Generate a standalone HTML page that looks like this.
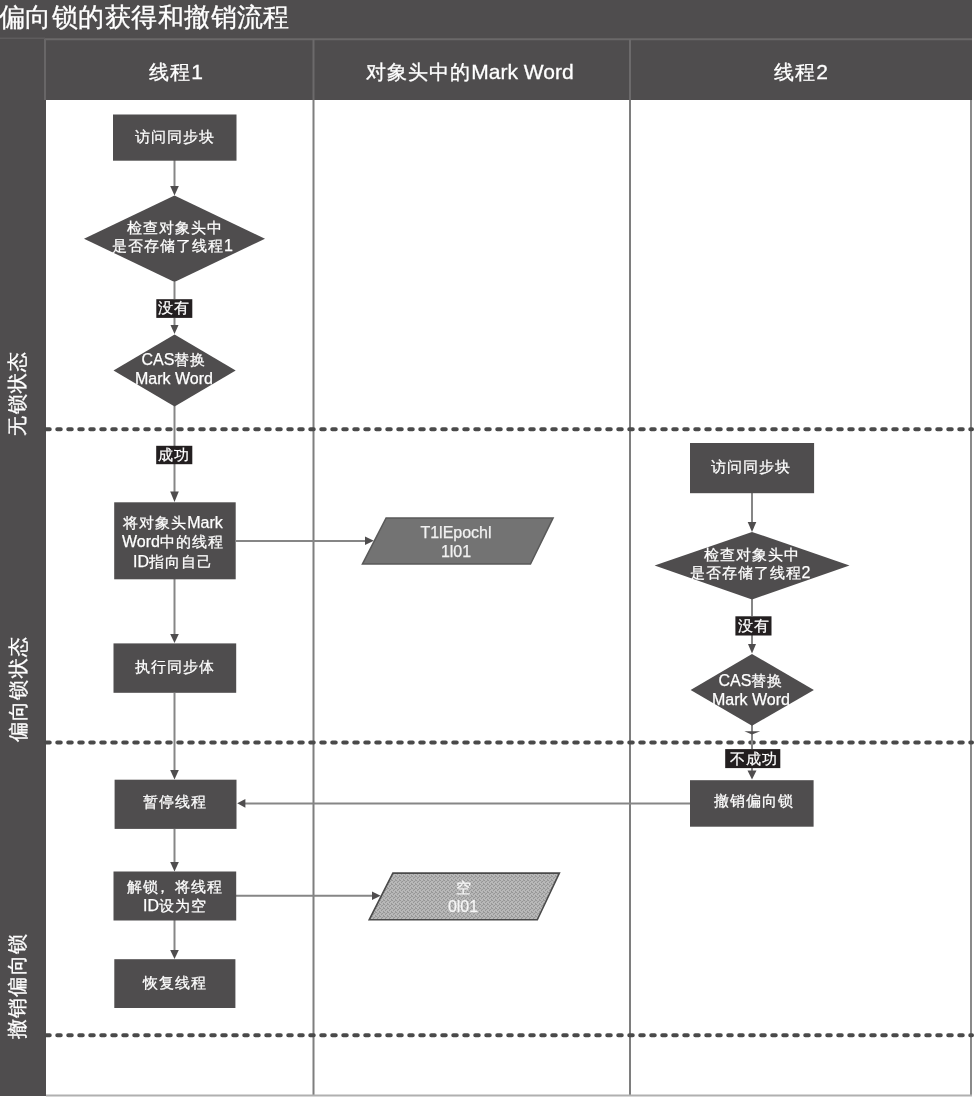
<!DOCTYPE html>
<html><head><meta charset="utf-8">
<style>
html,body{margin:0;padding:0;background:#fff;}
body{width:975px;height:1103px;position:relative;overflow:hidden;font-family:"Liberation Sans",sans-serif;}
svg{position:absolute;left:0;top:0;}
.t,.h,.v,.title{position:absolute;color:#fff;will-change:transform;white-space:nowrap;}
.t{-webkit-text-stroke:0.25px #fff;text-align:center;font-size:16px;line-height:19.3px;}
.t .c{font-size:15px;letter-spacing:1px;}
.h{-webkit-text-stroke:0.3px #fff;text-align:center;font-size:21px;line-height:24px;}
.h .ch{font-size:20px;letter-spacing:1px;}
.v{-webkit-text-stroke:0.3px #fff;font-size:20px;line-height:24px;letter-spacing:1.4px;transform:rotate(-90deg);text-align:center;}
.title{left:-1px;top:0;font-size:26.3px;line-height:34px;letter-spacing:0.45px;-webkit-text-stroke:0.3px #fff;}
</style></head><body>
<svg width="975" height="1103" viewBox="0 0 975 1103">
  <!-- frame -->
  <rect x="0" y="0" width="972" height="1096" fill="#4f4d4e"/>
  <rect x="46" y="100" width="925" height="995.5" fill="#fff"/>
  <!-- header lines -->
  <line x1="0" y1="38.3" x2="45" y2="38.3" stroke="#5e5c5d" stroke-width="1.6"/>
  <line x1="45" y1="39.2" x2="972" y2="39.2" stroke="#6a6869" stroke-width="2"/>
  <line x1="45" y1="39" x2="45" y2="100" stroke="#686667" stroke-width="2"/>
  <!-- column dividers -->
  <line x1="313.5" y1="39" x2="313.5" y2="100" stroke="#6c6a6b" stroke-width="2"/>
  <line x1="630" y1="39" x2="630" y2="100" stroke="#6c6a6b" stroke-width="2"/>
  <line x1="313.5" y1="100" x2="313.5" y2="1095" stroke="#7e7e7e" stroke-width="2"/>
  <line x1="630" y1="100" x2="630" y2="1095" stroke="#7e7e7e" stroke-width="2"/>
  <line x1="971" y1="100" x2="971" y2="1096" stroke="#8a8a8a" stroke-width="2"/>
  <line x1="46" y1="1095.5" x2="972" y2="1095.5" stroke="#b0b0b0" stroke-width="2"/>
  <!-- dashed separators -->
  <g stroke="#4a4a4a" stroke-width="4" stroke-linecap="round" stroke-dasharray="3.5 7.5" fill="none">
    <line x1="46.25" y1="429.3" x2="972" y2="429.3"/>
    <line x1="46.25" y1="742.5" x2="972" y2="742.5"/>
    <line x1="46.25" y1="1035.2" x2="972" y2="1035.2"/>
  </g>
  <!-- connector lines -->
  <g stroke="#868686" stroke-width="2" fill="none">
    <line x1="174.5" y1="160" x2="174.5" y2="190"/>
    <line x1="174.5" y1="282" x2="174.5" y2="299"/>
    <line x1="174.5" y1="318" x2="174.5" y2="328"/>
    <line x1="174.5" y1="406" x2="174.5" y2="446"/>
    <line x1="174.5" y1="464" x2="174.5" y2="494"/>
    <line x1="174.5" y1="579" x2="174.5" y2="636"/>
    <line x1="174.5" y1="693" x2="174.5" y2="772"/>
    <line x1="174.5" y1="829" x2="174.5" y2="864"/>
    <line x1="174.5" y1="920" x2="174.5" y2="952"/>
    <line x1="236" y1="541" x2="366" y2="541"/>
    <line x1="236" y1="895.8" x2="373" y2="895.8"/>
    <line x1="752" y1="493" x2="752" y2="525"/>
    <line x1="752" y1="599" x2="752" y2="616"/>
    <line x1="752" y1="635" x2="752" y2="646"/>
    <line x1="752" y1="725" x2="752" y2="749"/>
    <line x1="752" y1="768" x2="752" y2="773"/>
    <line x1="690" y1="803.6" x2="244" y2="803.6"/>
  </g>
  <g fill="#4f4d4e">
    <!-- arrowheads down col1 -->
    <polygon points="170.2,186 178.8,186 174.5,195.5"/>
    <polygon points="170.5,325 178.5,325 174.5,334"/>
    <polygon points="170.2,491.5 178.8,491.5 174.5,502"/>
    <polygon points="170.2,634 178.8,634 174.5,643"/>
    <polygon points="170.2,770 178.8,770 174.5,779.5"/>
    <polygon points="170.2,862 178.8,862 174.5,871.5"/>
    <polygon points="170.2,950 178.8,950 174.5,959"/>
    <!-- col3 -->
    <polygon points="747.7,522 756.3,522 752,532"/>
    <polygon points="748,644 756,644 752,653.5"/>
    <polygon points="744.4,731.2 760.2,731.2 752,734.6"/>
    <polygon points="747.5,770.6 756.5,770.6 752,779.5"/>
    <!-- right arrows -->
    <polygon points="365,536.6 365,545 373.8,540.8"/>
    <polygon points="372,891.6 372,900 380.6,895.8"/>
    <!-- left arrow -->
    <polygon points="245.4,799 245.4,807.7 237.2,803.3"/>
    <!-- boxes -->
    <rect x="113" y="114.5" width="123.5" height="46.2"/>
    <rect x="114.2" y="502.3" width="121.5" height="77"/>
    <rect x="113.5" y="643.4" width="122.7" height="49.4"/>
    <rect x="114.6" y="779.7" width="121.9" height="49.2"/>
    <rect x="113.5" y="871.5" width="122.7" height="49"/>
    <rect x="114.3" y="959.2" width="121.1" height="48.8"/>
    <rect x="690" y="443" width="124.1" height="50.2"/>
    <rect x="690" y="780.2" width="123.6" height="46.5"/>
    <!-- diamonds -->
    <polygon points="174.5,195.5 265,238.7 174.5,282 84,238.7"/>
    <polygon points="174.6,334.5 235.7,370.5 174.6,406.5 113.5,370.5"/>
    <polygon points="752,531.9 849.5,565.6 752,599.4 654.6,565.6"/>
    <polygon points="752,654 813.9,690 752,725.8 690.6,690"/>
  </g>
  <!-- label boxes -->
  <g fill="#231f20">
    <rect x="156.3" y="299.2" width="36" height="18.7"/>
    <rect x="156.2" y="445.8" width="36.1" height="18.4"/>
    <rect x="735.4" y="616.3" width="36.1" height="19.2"/>
    <rect x="725.2" y="749.1" width="55.1" height="19"/>
  </g>
  <!-- parallelograms -->
  <polygon points="386.1,517.9 553.1,517.9 530.5,564.1 362.4,564.1" fill="#737373" stroke="#595959" stroke-width="1.5"/>
  <defs><pattern id="dith" x="0" y="0" width="4" height="4" patternUnits="userSpaceOnUse"><rect width="4" height="4" fill="#b8b8b8"/><rect x="0" y="0" width="1" height="1" fill="#969696"/><rect x="2" y="1" width="1" height="1" fill="#969696"/><rect x="1" y="2" width="1" height="1" fill="#969696"/><rect x="3" y="3" width="1" height="1" fill="#969696"/><rect x="3" y="0" width="1" height="1" fill="#9c9c9c"/><rect x="1" y="1" width="1" height="1" fill="#a8a8a8"/></pattern></defs>
  <polygon points="392.9,873.1 559.4,873.1 537.3,919.8 369.2,919.8" fill="url(#dith)" stroke="#4a4a4a" stroke-width="1.6"/>
</svg>
<div class="title">偏向锁的获得和撤销流程</div>
<div class="h" style="left:25.60px;top:60.20px;width:300px;"><span class="ch">线程</span>1</div>
<div class="h" style="left:319.50px;top:60.00px;width:300px;"><span class="ch">对象头中的</span>Mark Word</div>
<div class="h" style="left:650.70px;top:60.00px;width:300px;"><span class="ch">线程</span>2</div>
<div class="v" style="left:-52.60px;top:380.60px;width:140px;height:24px;">无锁状态</div>
<div class="v" style="left:-52.40px;top:677.30px;width:140px;height:24px;">偏向锁状态</div>
<div class="v" style="left:-52.80px;top:974.30px;width:140px;height:24px;">撤销偏向锁</div>
<div class="t" style="left:64.50px;top:127.30px;width:220px;"><span class="c">访问同步块</span></div>
<div class="t" style="left:65.00px;top:219.20px;width:220px;line-height:18.2px;"><span class="c">检查对象头中</span><br><span style="position:relative;left:-2.5px"><span class="c">是否存储了线程</span>1</span></div>
<div class="t" style="left:64.30px;top:298.20px;width:220px;"><span class="c">没有</span></div>
<div class="t" style="left:64.40px;top:350.00px;width:220px;">CAS<span class="c">替换</span><br>Mark Word</div>
<div class="t" style="left:64.30px;top:444.50px;width:220px;"><span class="c">成功</span></div>
<div class="t" style="left:63.00px;top:512.50px;width:220px;"><span class="c">将对象头</span>Mark<br>Word<span class="c">中的线程</span><br>ID<span class="c">指向自己</span></div>
<div class="t" style="left:64.50px;top:657.30px;width:220px;"><span class="c">执行同步体</span></div>
<div class="t" style="left:64.50px;top:792.20px;width:220px;"><span class="c">暂停线程</span></div>
<div class="t" style="left:64.50px;top:877.30px;width:220px;"><span class="c">解锁<span style="position:relative;left:-4px">，</span>将线程</span><br>ID<span class="c">设为空</span></div>
<div class="t" style="left:64.50px;top:972.50px;width:220px;"><span class="c">恢复线程</span></div>
<div class="t" style="left:346.00px;top:523.20px;width:220px;color:#f2f2f2;-webkit-text-stroke-color:#f2f2f2;">T1lEpochl<br>1l01</div>
<div class="t" style="left:353.00px;top:878.10px;width:220px;color:#f6f6f6;-webkit-text-stroke-color:#f6f6f6;"><span style="position:relative;left:1px"><span class="c">空</span></span><br>0l01</div>
<div class="t" style="left:640.50px;top:457.20px;width:220px;"><span class="c">访问同步块</span></div>
<div class="t" style="left:641.50px;top:546.20px;width:220px;line-height:18px;"><span class="c">检查对象头中</span><br><span style="position:relative;left:-2px"><span class="c">是否存储了线程</span>2</span></div>
<div class="t" style="left:643.50px;top:615.90px;width:220px;"><span class="c">没有</span></div>
<div class="t" style="left:640.50px;top:670.80px;width:220px;">CAS<span class="c">替换</span><br>Mark Word</div>
<div class="t" style="left:643.60px;top:748.50px;width:220px;"><span class="c">不成功</span></div>
<div class="t" style="left:643.70px;top:790.50px;width:220px;"><span class="c">撤销偏向锁</span></div>
</body></html>
